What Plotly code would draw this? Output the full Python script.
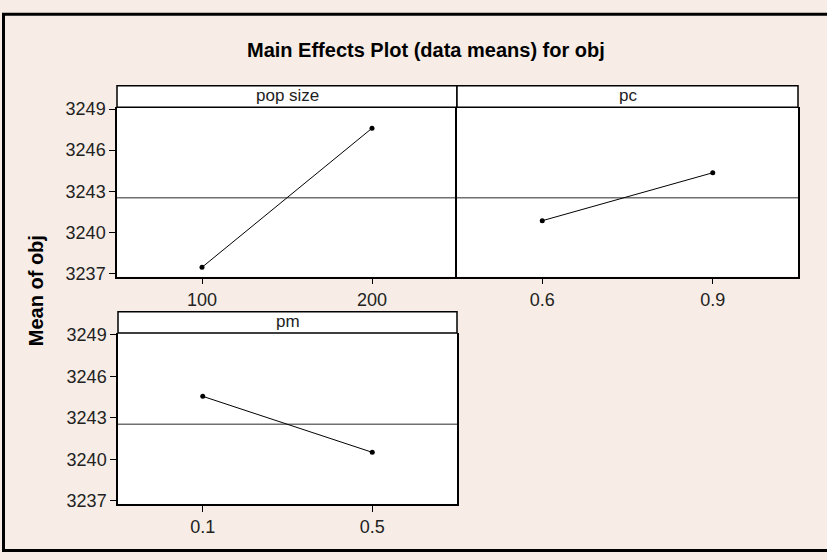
import plotly.graph_objects as go

W, H = 827, 560

# ---- data ----
factors = ["pop size", "pc", "pm"]
pop_levels = ["100", "200"]
pop_means = [3237.45, 3247.6]
pc_levels = ["0.6", "0.9"]
pc_means = [3240.85, 3244.35]
pm_levels = ["0.1", "0.5"]
pm_means = [3244.55, 3240.5]
grand_mean = 3242.53
y_ticks = [3237, 3240, 3243, 3246, 3249]

title = "Main Effects Plot (data means) for obj"
y_title = "Mean of obj"

FONT = "Arial, Liberation Sans, sans-serif"

def px(x):
    return x / W

def py(y):
    return 1 - y / H

fig = go.Figure()

levels = [pop_levels, pc_levels, pm_levels]
means = [pop_means, pc_means, pm_means]
for i, (lv, mv) in enumerate(zip(levels, means)):
    sfx = "" if i == 0 else str(i + 1)
    fig.add_trace(go.Scatter(
        x=lv, y=mv, mode="lines+markers",
        line=dict(color="black", width=1),
        marker=dict(color="black", size=5, symbol="circle"),
        xaxis="x" + sfx, yaxis="y" + sfx, showlegend=False, hoverinfo="x+y"))

# panel geometry (pixels)
panels = [
    dict(x0=117, x1=457, y0=102, y1=276, h0=80),
    dict(x0=457, x1=798, y0=102, y1=276, h0=80),
    dict(x0=118, x1=457, y0=334, y1=509.5, h0=312),
]
yr = [3236.77, 3249.13]

tickfont = dict(family=FONT, size=18, color="#222")
axis_common = dict(showline=True, linecolor="black", linewidth=1.5,
                   showgrid=False, zeroline=False, ticks="outside", ticklen=6,
                   tickcolor="black", tickwidth=1, tickfont=tickfont)

layout = {}
shapes = []
annotations = []
for i, p in enumerate(panels):
    sfx = "" if i == 0 else str(i + 1)
    xa = dict(axis_common, domain=[px(p["x0"]), px(p["x1"])], anchor="y" + sfx,
              type="category", range=[-0.5, 1.5], mirror=False)
    ya = dict(axis_common, domain=[py(p["y1"]), py(p["y0"])], anchor="x" + sfx,
              range=yr, tickvals=y_ticks, ticktext=[str(t) for t in y_ticks],
              mirror=(i != 0))
    if i == 1:
        ya.update(ticks="", showticklabels=False)
    layout["xaxis" + sfx] = xa
    layout["yaxis" + sfx] = ya
    # header strip
    shapes.append(dict(type="rect", xref="paper", yref="paper",
                       x0=px(p["x0"]), x1=px(p["x1"]), y0=py(p["y0"]), y1=py(p["h0"]),
                       line=dict(color="black", width=1.5), fillcolor="white", layer="below"))
    annotations.append(dict(text=factors[i], xref="paper", yref="paper",
                            x=px((p["x0"] + p["x1"]) / 2), y=py((p["y0"] + p["h0"]) / 2 - 1),
                            xanchor="center", yanchor="middle", showarrow=False,
                            font=dict(family=FONT, size=17, color="#222")))
    # grand mean reference line
    shapes.append(dict(type="line", xref="x" + sfx + " domain", yref="y" + sfx,
                       x0=0, x1=1, y0=grand_mean, y1=grand_mean,
                       line=dict(color="#707070", width=1.5), layer="below"))

# outer frame (right edge lies outside the picture, as in the reference)
shapes.append(dict(type="rect", xref="paper", yref="paper",
                   x0=px(3.5), x1=1.05, y0=py(557.5), y1=py(6.5),
                   line=dict(color="black", width=3), fillcolor="rgba(0,0,0,0)"))

annotations.append(dict(text="<b>" + title + "</b>", xref="paper", yref="paper",
                        x=px(426), y=py(43), xanchor="center", yanchor="middle",
                        showarrow=False, font=dict(family=FONT, size=20, color="black")))
annotations.append(dict(text="<b>" + y_title + "</b>", xref="paper", yref="paper",
                        x=px(36), y=py(291), xanchor="center", yanchor="middle",
                        textangle=-90, showarrow=False,
                        font=dict(family=FONT, size=20, color="black")))

fig.update_layout(
    width=W, height=H, margin=dict(l=0, r=0, t=0, b=0),
    paper_bgcolor="#f7ede6", plot_bgcolor="white",
    shapes=shapes, annotations=annotations, showlegend=False,
    **layout)

fig.write_html("out.html", config={"displayModeBar": False},
               post_script="document.body.style.margin='0';document.body.style.padding='0';")
